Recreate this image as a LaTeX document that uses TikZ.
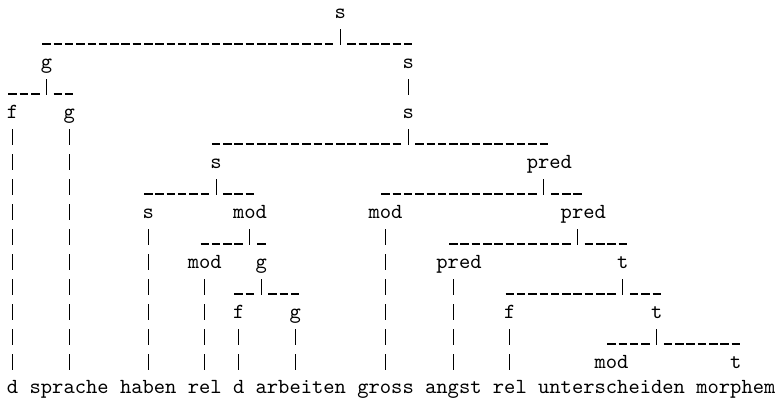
\documentclass[tikz,border=0pt]{standalone}
\usetikzlibrary{calc}

% one drawing unit = one grid pixel; a monospace cell is 11.3 units = 5.25pt (lmmono10 at 10pt)
\tikzset{
  lab/.style={anchor=base west, inner sep=0pt, outer sep=0pt,
              font=\fontsize{10}{12}\selectfont\ttfamily},
  stem/.style={line width=0.5pt},
  rule/.style={line width=0.85pt, dash pattern=on 3.949pt off 1.301pt},
  vchain/.style={line width=0.5pt, dash pattern=on 7.434pt off 4.181pt},
}

% label: name, row, first column, text, column of its stem
\newcommand\lab[5]{%
  \node[lab] (#1) at ({7+11.3*#3},{18+25*(#2-1)}) {#4};
  \coordinate (#1s) at ({7+11.3*(#5+0.5)},{18+25*(#2-1)});
}
% branching: parent, leftmost child, rightmost child
\newcommand\branch[3]{%
  \draw[stem] ($(#1s)+(0,11)$) -- ($(#1s)+(0,27)$);
  \draw[rule] ($(#2s)+(-4.25,-24)$) -- ($(#1s)+(-7.05,26)$);
  \draw[rule] ($(#1s)+(7.05,26)$) -- ($(#3s)+(4.25,-24)$);
}
% single daughter
\newcommand\unary[2]{%
  \draw[stem] ($(#1s)+(0,11)$) -- ($(#2s)+(0,-23)$);
}
% broken vertical line from a category down to its word
\newcommand\chain[2]{%
  \draw[vchain] ($(#1s)+(0,11)$) -- ($(#2s)+(0,-23)$);
}

\begin{document}
\begin{tikzpicture}[x=0.4646pt, y=-0.4646pt]
\useasboundingbox (0,0) rectangle (775,400);

% categories
\lab{S0}{1}{29}{s}{29}
\lab{G1}{3}{3}{g}{3}
\lab{S1}{3}{35}{s}{35}
\lab{F1}{5}{0}{f}{0}
\lab{G2}{5}{5}{g}{5}
\lab{S2}{5}{35}{s}{35}
\lab{S3}{7}{18}{s}{18}
\lab{P1}{7}{46}{pred}{47}
\lab{S4}{9}{12}{s}{12}
\lab{M1}{9}{20}{mod}{21}
\lab{M2}{9}{32}{mod}{33}
\lab{P2}{9}{49}{pred}{50}
\lab{M3}{11}{16}{mod}{17}
\lab{G3}{11}{22}{g}{22}
\lab{P3}{11}{38}{pred}{39}
\lab{T1}{11}{54}{t}{54}
\lab{F2}{13}{20}{f}{20}
\lab{G4}{13}{25}{g}{25}
\lab{F3}{13}{44}{f}{44}
\lab{T2}{13}{57}{t}{57}
\lab{M4}{15}{52}{mod}{53}
\lab{T3}{15}{64}{t}{64}

% words
\lab{w1}{16}{0}{d}{0}
\lab{w2}{16}{2}{sprache}{5}
\lab{w3}{16}{10}{haben}{12}
\lab{w4}{16}{16}{rel}{17}
\lab{w5}{16}{20}{d}{20}
\lab{w6}{16}{22}{arbeiten}{25}
\lab{w7}{16}{31}{gross}{33}
\lab{w8}{16}{37}{angst}{39}
\lab{w9}{16}{43}{rel}{44}
\lab{w10}{16}{47}{unterscheiden}{53}
\lab{w11}{16}{61}{morphem}{64}

% tree branches
\branch{S0}{G1}{S1}
\branch{G1}{F1}{G2}
\unary{S1}{S2}
\branch{S2}{S3}{P1}
\branch{S3}{S4}{M1}
\branch{P1}{M2}{P2}
\branch{M1}{M3}{G3}
\branch{P2}{P3}{T1}
\branch{G3}{F2}{G4}
\branch{T1}{F3}{T2}
\branch{T2}{M4}{T3}

% lines down to the words
\chain{F1}{w1}
\chain{G2}{w2}
\chain{S4}{w3}
\chain{M3}{w4}
\chain{F2}{w5}
\chain{G4}{w6}
\chain{M2}{w7}
\chain{P3}{w8}
\chain{F3}{w9}
\end{tikzpicture}
\end{document}
